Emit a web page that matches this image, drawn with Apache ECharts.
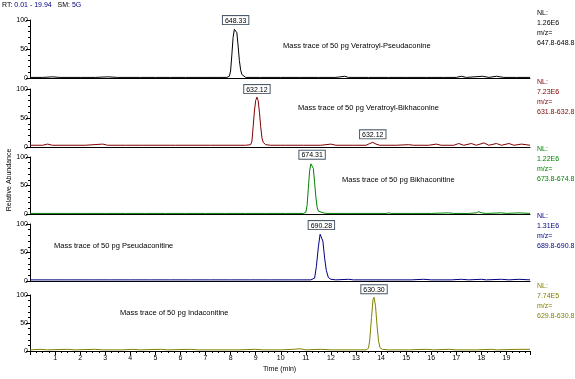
<!DOCTYPE html>
<html><head><meta charset="utf-8">
<script src="https://cdn.jsdelivr.net/npm/echarts@6/dist/echarts.min.js"></script>
<style>html,body{margin:0;padding:0;background:#fff}#c{width:575px;height:379px}</style>
</head><body><div id="c"></div>
<script>
// ---- data ----
const xTicks = [1,2,3,4,5,6,7,8,9,10,11,12,13,14,15,16,17,18,19];
const trace1 = [[0,1],[0.5,1],[0.9,2],[1.2,1],[2.0,1],[2.6,1],[3.1,2],[3.5,1],[4.4,1],[5.0,1],[5.6,1],[6.2,1],[6.9,1],[7.5,1],[7.85,1],[7.95,3],[8.0,12],[8.05,40],[8.1,70],[8.15,84],[8.2,86],[8.25,78],[8.3,55],[8.35,30],[8.4,14],[8.45,6],[8.5,3],[8.6,1],[9.2,1],[10.0,1],[10.8,1],[11.5,1],[12.2,1],[12.55,3],[12.7,1],[13.5,1],[14.3,1],[15.0,1],[15.8,1],[16.5,1],[17.0,1],[17.2,3],[17.4,1],[18.05,3],[18.3,1],[18.6,3],[18.9,1],[19.4,1],[19.94,1]];
const trace2 = [[0,3],[0.5,3],[0.7,5],[0.9,3],[1.6,3],[2.2,3],[2.9,5],[3.1,3],[3.8,3],[4.5,3],[5.1,3],[5.8,3],[6.5,3],[7.2,3],[7.9,3],[8.6,3],[8.8,4],[8.85,10],[8.9,35],[8.95,62],[9.0,80],[9.05,86],[9.1,80],[9.15,60],[9.2,35],[9.25,16],[9.3,8],[9.4,4],[9.6,3],[10.2,3],[10.9,3],[11.6,3],[12.0,5],[12.2,3],[12.9,3],[13.4,3],[13.55,6],[13.67,8],[13.8,5],[13.95,3],[14.6,3],[15.1,4],[15.3,3],[15.9,3],[16.2,5],[16.4,3],[16.9,3],[17.1,6],[17.3,3],[17.6,6],[17.8,3],[18.1,7],[18.3,3],[18.6,6],[18.8,3],[19.1,6],[19.3,3],[19.6,5],[19.94,3]];
const trace3 = [[0,1],[0.6,1],[1.4,1],[2.2,1],[3.0,1],[3.8,1],[4.6,1],[5.4,1],[6.2,1],[7.0,1],[7.8,1],[8.6,1],[9.4,1],[10.2,1],[10.9,1],[11.0,3],[11.05,15],[11.1,45],[11.15,75],[11.2,88],[11.25,90],[11.3,80],[11.35,55],[11.4,30],[11.45,12],[11.5,5],[11.55,2],[11.7,2],[11.8,1],[12.6,1],[13.4,1],[14.2,1],[14.3,2],[14.4,1],[15.2,1],[16.0,1],[16.7,2],[16.9,1],[17.5,1],[17.8,2],[17.9,4],[18.0,2],[18.2,1],[18.8,2],[19.0,1],[19.5,2],[19.94,1]];
const trace4 = [[0,2],[0.8,2],[1.6,2],[2.4,2],[3.2,2],[4.0,2],[4.8,2],[5.6,2],[6.4,2],[7.2,2],[8.0,2],[8.8,2],[9.6,2],[10.4,2],[11.2,2],[11.35,5],[11.42,25],[11.5,60],[11.57,82],[11.62,84],[11.68,70],[11.75,40],[11.82,18],[11.9,6],[12.0,3],[12.2,2],[12.7,3],[12.9,2],[13.6,2],[14.4,2],[15.2,2],[15.7,3],[16.0,2],[16.8,2],[17.2,3],[17.5,2],[18.0,3],[18.2,2],[18.8,3],[19.1,2],[19.5,3],[19.94,2]];
const trace5 = [[0,2],[0.4,3],[0.7,2],[1.5,3],[1.8,2],[2.6,3],[2.9,2],[3.7,2],[4.1,3],[4.4,2],[5.2,3],[5.5,2],[6.4,3],[6.7,2],[7.5,2],[8.3,2],[9.0,3],[9.3,2],[10.0,2],[10.5,3],[10.77,4],[11.0,2],[11.6,3],[12.0,2],[12.8,2],[13.4,2],[13.5,5],[13.55,20],[13.62,60],[13.68,92],[13.72,96],[13.78,80],[13.84,45],[13.9,18],[13.96,6],[14.05,3],[14.3,2],[15.1,2],[15.8,3],[16.1,2],[16.7,3],[17.0,2],[17.8,2],[18.4,3],[18.6,2],[19.5,3],[19.94,3]];
const traces = [trace1, trace2, trace3, trace4, trace5];
const peakLabels = [
  [[8.2,86,'648.33']],
  [[9.05,86,'632.12'],[13.67,8,'632.12']],
  [[11.25,90,'674.31']],
  [[11.62,84,'690.28']],
  [[13.72,96,'630.30']]
];
const compounds = ['Veratroyl-Pseudaconine','Veratroyl-Bikhaconine','Bikhaconitine','Pseudaconitine','Indaconitine'];
const nlValues = ['1.26E6','7.23E6','1.22E6','1.31E6','7.74E5'];
const mzRanges = ['647.8-648.8','631.8-632.8','673.8-674.8','689.8-690.8','629.8-630.8'];
const colors = ['#000000','#800000','#008000','#000080','#808000'];

// ---- layout ----
const FONT = 'Liberation Sans';
const panelTop = [20, 89, 157, 224, 295];
const panelH = [58, 58, 57, 57, 56];
const massTextPos = [[283,46],[298,108],[342,180],[54,246],[120,313]];

const grids = [], xAxes = [], yAxes = [], series = [], graphics = [];
for (let i = 0; i < 5; i++) {
  const last = i === 4;
  grids.push({left: 30, width: 500, top: panelTop[i], height: panelH[i]});
  xAxes.push({
    type: 'value', gridIndex: i, min: 0, max: 19.94, interval: 1,
    axisLine: {show: true, lineStyle: {color: '#000', width: 1}},
    axisTick: {show: last, length: 4, lineStyle: {color: '#000'}},
    minorTick: {show: last, splitNumber: 4, length: 2, lineStyle: {color: '#000'}},
    splitLine: {show: false},
    axisLabel: {show: last, fontSize: 7, fontFamily: FONT, color: '#000', margin: 4,
      showMaxLabel: false,
      formatter: v => (xTicks.indexOf(v) >= 0 ? String(v) : '')}
  });
  yAxes.push({
    type: 'value', gridIndex: i, min: 0, max: 100, interval: 50,
    axisLine: {show: true, lineStyle: {color: '#000', width: 1}},
    axisTick: {show: true, length: 4, lineStyle: {color: '#000'}},
    minorTick: {show: true, splitNumber: 5, length: 2, lineStyle: {color: '#000'}},
    splitLine: {show: false},
    axisLabel: {fontSize: 7, fontFamily: FONT, color: '#000', margin: 2}
  });
  series.push({
    type: 'line', xAxisIndex: i, yAxisIndex: i, data: traces[i],
    showSymbol: false, symbol: 'none', animation: false,
    lineStyle: {color: colors[i], width: 1}, z: 3,
    markPoint: {
      symbol: 'rect', symbolSize: 0, animation: false,
      label: {show: true, position: 'top', distance: 4, fontSize: 7, fontFamily: FONT,
        color: '#000', backgroundColor: '#fff', borderColor: '#4a5a6a', borderWidth: 1,
        padding: [1, 2, 0, 2], formatter: p => p.data.name},
      data: peakLabels[i].map(p => ({coord: [p[0], p[1]], name: p[2]}))
    }
  });
  graphics.push({type: 'text', left: massTextPos[i][0], top: massTextPos[i][1] - 4,
    style: {text: 'Mass trace of 50 pg ' + compounds[i], font: '7.5px ' + FONT, fill: '#000'}});
  const base = panelTop[i] + panelH[i];
  const c = colors[i];
  graphics.push({type: 'text', left: 537, top: base - 68, style: {text: 'NL:', font: '7px ' + FONT, fill: c}});
  graphics.push({type: 'text', left: 537, top: base - 58, style: {text: nlValues[i], font: '7px ' + FONT, fill: c}});
  graphics.push({type: 'text', left: 537, top: base - 48, style: {text: 'm/z=', font: '7px ' + FONT, fill: c}});
  graphics.push({type: 'text', left: 537, top: base - 38, style: {text: mzRanges[i], font: '7px ' + FONT, fill: c}});
}
graphics.push({type: 'text', left: 2, top: 2, style: {
  rich: {k: {fill: '#000', font: '7px ' + FONT}, v: {fill: '#000080', font: '7px ' + FONT}},
  text: '{k|RT: }{v|0.01 - 19.94}{k|   SM: }{v|5G}'}});
graphics.push({type: 'text', x: 9, y: 180, rotation: Math.PI / 2,
  style: {text: 'Relative Abundance', font: '7px ' + FONT, fill: '#000', align: 'center', verticalAlign: 'middle'}});
graphics.push({type: 'text', left: 263, top: 366,
  style: {text: 'Time (min)', font: '7px ' + FONT, fill: '#000'}});

const chart = echarts.init(document.getElementById('c'), null, {renderer: 'canvas'});
chart.setOption({
  animation: false,
  grid: grids, xAxis: xAxes, yAxis: yAxes, series: series, graphic: graphics
});
</script></body></html>
